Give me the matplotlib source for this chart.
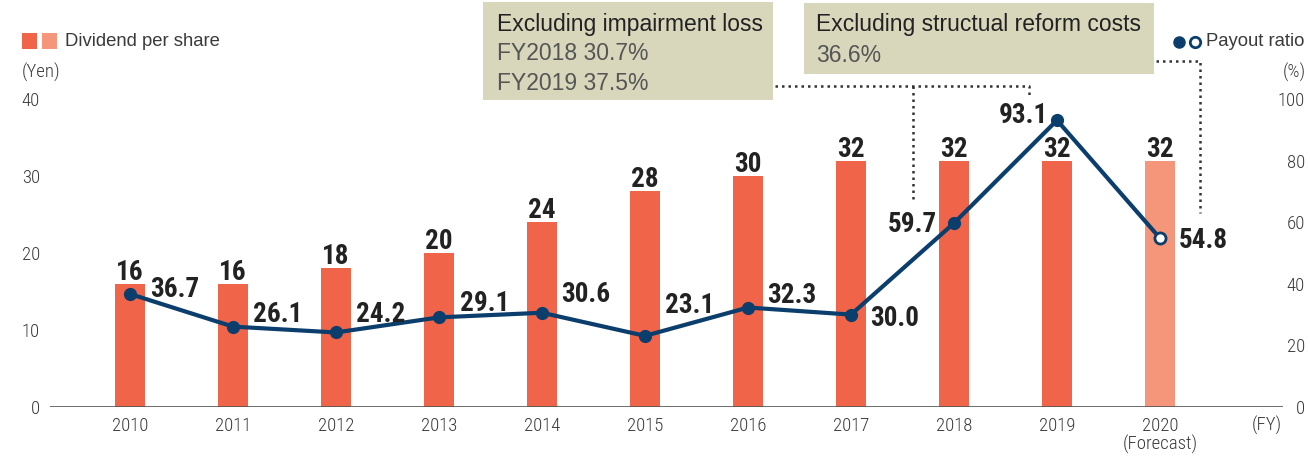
import matplotlib
matplotlib.use("Agg")
import matplotlib.pyplot as plt
from matplotlib.patches import Rectangle
from matplotlib.lines import Line2D
from matplotlib import font_manager as fm
import numpy as np

# ---------------- data ----------------
years = ["2010", "2011", "2012", "2013", "2014", "2015", "2016", "2017", "2018", "2019", "2020"]
year_labels = ["2010", "2011", "2012", "2013", "2014", "2015", "2016", "2017", "2018", "2019", "2020\n(Forecast)"]
dividend = [16, 16, 18, 20, 24, 28, 30, 32, 32, 32, 32]
payout = [36.7, 26.1, 24.2, 29.1, 30.6, 23.1, 32.3, 30.0, 59.7, 93.1, 54.8]
payout_labels = ["36.7", "26.1", "24.2", "29.1", "30.6", "23.1", "32.3", "30.0", "59.7", "93.1", "54.8"]
forecast = [False] * 10 + [True]
left_ticks = [0, 10, 20, 30, 40]
right_ticks = [0, 20, 40, 60, 80, 100]

# ---------------- fonts ----------------
available = set(f.name for f in fm.fontManager.ttflist)
cond_name = "DejaVu Sans"
for cand in ["Roboto Condensed", "Archivo Narrow", "Liberation Sans Narrow", "Fira Sans Condensed",
             "Barlow Semi Condensed", "Asap Condensed"]:
    if cand in available:
        cond_name = cand
        break
COND = [cond_name, "DejaVu Sans"]
REG = ["Liberation Sans", "DejaVu Sans"]

# ---------------- style ----------------
W, H = 1310, 462
BAR = "#f0654a"
BAR_FC = "#f5967a"
NAVY = "#0b3e6c"
BOX = "#d8d7bc"
TXT = "#3a3a3a"

# label offsets in pixels (dx, dy up, align) for payout labels
lab_off = [(20, 7, "left"), (20, 15, "left"), (20, 20, "left"), (21, 16, "left"),
           (19, 21, "left"), (20, 33, "left"), (19, 15, "left"), (19, -1, "left"),
           (-17, 1, "right"), (-9, 7, "right"), (19, 0, "left")]

def fx(px):
    return px / W

def fy(py):
    return 1 - py / H

PT = 72 / 100.0  # px -> pt

fig = plt.figure(figsize=(W / 100, H / 100), dpi=100)
ax_l, ax_r, ax_t, ax_b = 50, 1283, 99, 407
ax = fig.add_axes([fx(ax_l), fy(ax_b), fx(ax_r - ax_l), (ax_b - ax_t) / H])
ax2 = ax.twinx()

x = np.arange(len(years))
spacing = 103.0
xmin = (ax_l - 130) / spacing
xmax = (ax_r - 130) / spacing
ax.set_xlim(xmin, xmax)
ax.set_ylim(0, 40)
ax2.set_ylim(0, 100)

colors = [BAR_FC if f else BAR for f in forecast]
ax.bar(x, dividend, width=0.30, color=colors, zorder=2)

LBL = dict(fontsize=19.5, fontweight="bold", family=COND, color="#222222", zorder=5)
for xi, v in zip(x, dividend):
    ax.annotate(str(v), (xi, v), xytext=(0, 4 * PT), textcoords="offset points",
                ha="center", va="baseline", **LBL)

ax2.plot(x, payout, color=NAVY, lw=3.0, zorder=3)
for xi, v, f in zip(x, payout, forecast):
    if f:
        ax2.plot([xi], [v], "o", ms=8, mfc="white", mec=NAVY, mew=2.0, zorder=4)
    else:
        ax2.plot([xi], [v], "o", ms=8.5, mfc=NAVY, mec=NAVY, zorder=4)

for xi, v, s, (dx, dy, ha) in zip(x, payout, payout_labels, lab_off):
    ax2.annotate(s, (xi, v), xytext=(dx * PT, (dy - 10) * PT), textcoords="offset points",
                 ha=ha, va="baseline", **LBL)

# axes styling
for a in (ax, ax2):
    for sp in ("top", "right", "left", "bottom"):
        a.spines[sp].set_visible(False)
ax.axhline(0, color="#555555", lw=1.2, zorder=3)

TICK = dict(family=COND, fontsize=13.5, color=TXT, fontweight="light")
ax.set_xticks(x)
ax.set_xticklabels(year_labels, linespacing=1.0, **TICK)
ax.tick_params(axis="x", length=0, pad=7)
ax.set_yticks(left_ticks)
ax.set_yticklabels([str(t) for t in left_ticks], **TICK)
ax.tick_params(axis="y", length=0, pad=10 * PT)
ax2.set_yticks(right_ticks)
ax2.set_yticklabels([str(t) for t in right_ticks], **TICK)
ax2.tick_params(axis="y", length=0, pad=22 * PT)
for lab in ax2.get_yticklabels():
    lab.set_horizontalalignment("right")

# axis unit labels
fig.text(fx(1282), fy(425), "(FY)", ha="right", va="center", **TICK)
fig.text(fx(22), fy(72), "(Yen)", ha="left", va="center", **TICK)
fig.text(fx(1306), fy(72), "(%)", ha="right", va="center", **TICK)

# legend: dividend
fig.add_artist(Rectangle((fx(22), fy(49)), fx(15), 16 / H, transform=fig.transFigure, color=BAR, lw=0))
fig.add_artist(Rectangle((fx(42), fy(49)), fx(15), 16 / H, transform=fig.transFigure, color=BAR_FC, lw=0))
fig.text(fx(65), fy(41), "Dividend per share", ha="left", va="center", family=REG, fontsize=13.3, color=TXT)

# legend: payout
fig.add_artist(Line2D([fx(1179)], [fy(42)], transform=fig.transFigure, marker="o", ms=8,
                      mfc=NAVY, mec=NAVY, ls="none"))
fig.add_artist(Line2D([fx(1195)], [fy(42)], transform=fig.transFigure, marker="o", ms=7.5,
                      mfc="white", mec=NAVY, mew=2, ls="none"))
fig.text(fx(1206), fy(42), "Payout ratio", ha="left", va="center", family=REG, fontsize=13.3, color=TXT)

# annotation boxes
fig.add_artist(Rectangle((fx(483), fy(100)), fx(773 - 483), 98 / H, transform=fig.transFigure,
                         color=BOX, lw=0, zorder=1))
fig.text(fx(497), fy(24), "Excluding impairment loss", ha="left", va="center", family=REG,
         fontsize=16.5, color="#222222")
fig.text(fx(497), fy(54), "FY2018 30.7%", ha="left", va="center", family=REG, fontsize=16.5, color="#555555")
fig.text(fx(497), fy(83), "FY2019 37.5%", ha="left", va="center", family=REG, fontsize=16.5, color="#555555")

fig.add_artist(Rectangle((fx(804), fy(74)), fx(1154 - 804), 71 / H, transform=fig.transFigure,
                         color=BOX, lw=0, zorder=1))
fig.text(fx(816), fy(25), "Excluding structual reform costs", ha="left", va="center", family=REG,
         fontsize=16.5, color="#222222")
fig.text(fx(816), fy(55), "36.6%", ha="left", va="center", family=REG, fontsize=16.5, color="#555555")

# dotted connectors
dot = dict(transform=fig.transFigure, color="#333333", lw=1.8, ls=(0, (1, 1.6)))
fig.add_artist(Line2D([fx(775), fx(1029), fx(1029)], [fy(86), fy(86), fy(97)], **dot))
fig.add_artist(Line2D([fx(913), fx(913)], [fy(86), fy(203)], **dot))
fig.add_artist(Line2D([fx(1156), fx(1200), fx(1200)], [fy(61), fy(61), fy(213)], **dot))

fig.savefig("out.png", dpi=100)
